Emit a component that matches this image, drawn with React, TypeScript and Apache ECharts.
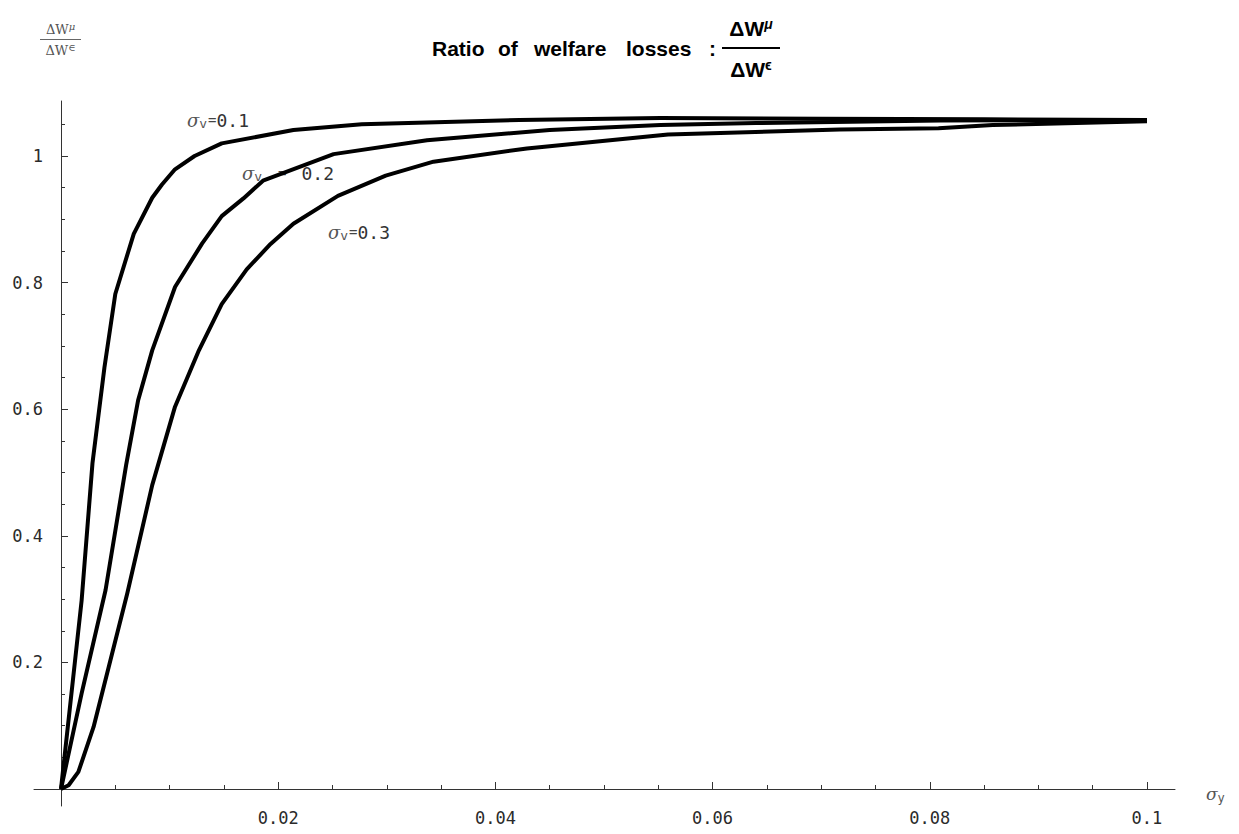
import React, { useEffect, useRef } from "react";
import * as echarts from "echarts";

// sigma_y values and welfare-loss ratios for each sigma_v curve
const sigmaY_v01 = [0, 0.0019, 0.0029, 0.0040, 0.0050, 0.0067, 0.0084, 0.0093, 0.0105, 0.0123, 0.0148, 0.0214, 0.0277, 0.0337, 0.0422, 0.0552, 0.0700, 0.0850, 0.1];
const ratio_v01 = [0, 0.298, 0.515, 0.666, 0.782, 0.877, 0.934, 0.955, 0.979, 1.000, 1.020, 1.041, 1.050, 1.053, 1.057, 1.060, 1.059, 1.058, 1.057];

const sigmaY_v02 = [0, 0.0019, 0.0041, 0.0060, 0.0071, 0.0084, 0.0105, 0.0130, 0.0148, 0.0168, 0.0186, 0.0251, 0.0337, 0.0450, 0.0552, 0.0640, 0.0810, 0.1];
const ratio_v02 = [0, 0.151, 0.314, 0.512, 0.614, 0.693, 0.793, 0.862, 0.905, 0.933, 0.961, 1.003, 1.025, 1.041, 1.049, 1.052, 1.056, 1.057];

const sigmaY_v03 = [0, 0.0007, 0.0016, 0.0030, 0.0044, 0.0061, 0.0084, 0.0105, 0.0127, 0.0148, 0.0171, 0.0193, 0.0214, 0.0255, 0.0299, 0.0343, 0.0429, 0.0559, 0.0717, 0.0808, 0.0858, 0.0935, 0.1];
const ratio_v03 = [0, 0.006, 0.027, 0.098, 0.193, 0.309, 0.480, 0.604, 0.693, 0.766, 0.821, 0.861, 0.893, 0.937, 0.969, 0.991, 1.012, 1.034, 1.042, 1.044, 1.049, 1.052, 1.055];

const curveLabels = ["0.1", "0.2", "0.3"];

const xMajorTicks = [0.02, 0.04, 0.06, 0.08, 0.1];
const xMinorTicks = [0.005, 0.01, 0.015, 0.025, 0.03, 0.035, 0.045, 0.05, 0.055, 0.065, 0.07, 0.075, 0.085, 0.09, 0.095];
const yMajorTicks = [0.2, 0.4, 0.6, 0.8, 1];
const yMinorTicks = [0.05, 0.1, 0.15, 0.25, 0.3, 0.35, 0.45, 0.5, 0.55, 0.65, 0.7, 0.75, 0.85, 0.9, 0.95, 1.05];

// axis lines extend a little past the origin on both axes
const X_LINE_MIN = -0.00249;
const Y_LINE_MIN = -0.0269;
const X_MAX = 0.10258;
const Y_MAX = 1.0869;

const MONO = "'DejaVu Sans Mono', monospace";
const SANS = "'Liberation Sans', Arial, sans-serif";
const SERIF = "'DejaVu Serif', 'Liberation Serif', serif";
const AXIS = "#333";

function pairs(xs: number[], ys: number[]) {
  return xs.map((x, i) => [x, ys[i]]);
}

function sigmaLabel(x: number, y: number, value: string, eqPad: number) {
  return {
    type: "text",
    x,
    y,
    silent: true,
    style: {
      text: `{s|σ}{sub|v}{e|=}{n|${value}}`,
      verticalAlign: "middle",
      align: "left",
      rich: {
        s: { fontFamily: SERIF, fontStyle: "italic", fontSize: 18, fill: "#555", lineHeight: 22 },
        sub: { fontFamily: MONO, fontSize: 13, fill: "#555", lineHeight: 22, padding: [7, 1, 0, 0] },
        e: { fontFamily: MONO, fontSize: 14, fill: "#444", lineHeight: 22, padding: [0, eqPad, 0, eqPad] },
        n: { fontFamily: MONO, fontSize: 18, fill: "#333", lineHeight: 22 },
      },
    },
  };
}

export default function App() {
  const ref = useRef<HTMLDivElement>(null);

  useEffect(() => {
    if (!ref.current) return;
    const chart = echarts.init(ref.current, undefined, { renderer: "svg" });
    const lineGrid = { left: 34, top: 101, width: 1141, height: 705, containLabel: false, outerBoundsMode: "none" };
    const plotGrid = { left: 61, top: 101, width: 1114, height: 688, containLabel: false, outerBoundsMode: "none" };

    const series = [
      pairs(sigmaY_v01, ratio_v01),
      pairs(sigmaY_v02, ratio_v02),
      pairs(sigmaY_v03, ratio_v03),
    ].map((data, i) => ({
      name: "σv=" + curveLabels[i],
      type: "line",
      xAxisIndex: 1,
      yAxisIndex: 1,
      data,
      symbol: "none",
      silent: true,
      clip: false,
      lineStyle: { color: "#000", width: 4, join: "round" },
    }));

    const titleFont = `bold 21px ${SANS}`;
    const noAxisParts = { axisLine: { show: false }, axisTick: { show: false }, axisLabel: { show: false }, splitLine: { show: false } };

    const option: any = {
      animation: false,
      backgroundColor: "#fff",
      grid: [lineGrid, { ...plotGrid }, { ...plotGrid }],
      xAxis: [
        {
          type: "value",
          gridIndex: 0,
          min: X_LINE_MIN,
          max: X_MAX,
          ...noAxisParts,
          axisLine: { show: true, onZero: true, lineStyle: { color: AXIS, width: 1 } },
        },
        {
          type: "value",
          gridIndex: 1,
          min: 0,
          max: X_MAX,
          ...noAxisParts,
          axisTick: { show: true, inside: true, length: 7, customValues: xMajorTicks, lineStyle: { color: AXIS } },
          axisLabel: {
            show: true,
            customValues: xMajorTicks,
            margin: 20,
            fontFamily: MONO,
            fontSize: 17,
            color: "#2a2a2a",
            formatter: (v: number) => String(v),
          },
        },
        {
          type: "value",
          gridIndex: 2,
          min: 0,
          max: X_MAX,
          ...noAxisParts,
          axisTick: { show: true, inside: true, length: 4, customValues: xMinorTicks, lineStyle: { color: AXIS } },
        },
      ],
      yAxis: [
        {
          type: "value",
          gridIndex: 0,
          min: Y_LINE_MIN,
          max: Y_MAX,
          ...noAxisParts,
          axisLine: { show: true, onZero: true, lineStyle: { color: AXIS, width: 1 } },
        },
        {
          type: "value",
          gridIndex: 1,
          min: 0,
          max: Y_MAX,
          ...noAxisParts,
          axisTick: { show: true, inside: true, length: 7, customValues: yMajorTicks, lineStyle: { color: AXIS } },
          axisLabel: {
            show: true,
            customValues: yMajorTicks,
            margin: 18,
            fontFamily: MONO,
            fontSize: 17,
            color: "#2a2a2a",
            formatter: (v: number) => String(v),
          },
        },
        {
          type: "value",
          gridIndex: 2,
          min: 0,
          max: Y_MAX,
          ...noAxisParts,
          axisTick: { show: true, inside: true, length: 4, customValues: yMinorTicks, lineStyle: { color: AXIS } },
        },
      ],
      series,
      graphic: [
        sigmaLabel(187, 120, curveLabels[0], 0),
        sigmaLabel(242, 173, curveLabels[1], 15),
        sigmaLabel(328, 232, curveLabels[2], 0),
        // x axis name
        {
          type: "text",
          x: 1206,
          y: 794,
          silent: true,
          style: {
            text: "{s|σ}{sub|y}",
            verticalAlign: "middle",
            rich: {
              s: { fontFamily: SERIF, fontStyle: "italic", fontSize: 17, fill: "#555", lineHeight: 22 },
              sub: { fontFamily: MONO, fontSize: 12, fill: "#555", lineHeight: 22, padding: [7, 0, 0, 0] },
            },
          },
        },
        // y axis name (small fraction)
        {
          type: "text",
          x: 60.5,
          y: 29,
          silent: true,
          style: {
            text: "{a|ΔW}{b|μ}",
            align: "center",
            verticalAlign: "middle",
            rich: {
              a: { fontFamily: SERIF, fontSize: 13, fill: "#555", lineHeight: 16 },
              b: { fontFamily: SERIF, fontStyle: "italic", fontSize: 10, fill: "#555", lineHeight: 16, padding: [0, 0, 5, 0] },
            },
          },
        },
        {
          type: "line",
          silent: true,
          shape: { x1: 40, y1: 39.5, x2: 81, y2: 39.5 },
          style: { stroke: "#666", lineWidth: 1 },
        },
        {
          type: "text",
          x: 60.5,
          y: 50,
          silent: true,
          style: {
            text: "{a|ΔW}{b|∈}",
            align: "center",
            verticalAlign: "middle",
            rich: {
              a: { fontFamily: SERIF, fontSize: 13, fill: "#555", lineHeight: 16 },
              b: { fontFamily: SERIF, fontSize: 10, fill: "#555", lineHeight: 16, padding: [0, 0, 5, 0] },
            },
          },
        },
        // title
        { type: "text", x: 432, y: 48, silent: true, style: { text: "Ratio", font: titleFont, fill: "#000", verticalAlign: "middle" } },
        { type: "text", x: 498, y: 48, silent: true, style: { text: "of", font: titleFont, fill: "#000", verticalAlign: "middle" } },
        { type: "text", x: 534, y: 48, silent: true, style: { text: "welfare", font: titleFont, fill: "#000", verticalAlign: "middle" } },
        { type: "text", x: 626, y: 48, silent: true, style: { text: "losses", font: titleFont, fill: "#000", verticalAlign: "middle" } },
        { type: "text", x: 709, y: 48, silent: true, style: { text: ":", font: titleFont, fill: "#000", verticalAlign: "middle" } },
        {
          type: "text",
          x: 751,
          y: 28,
          silent: true,
          style: {
            text: "{a|ΔW}{b|μ}",
            align: "center",
            verticalAlign: "middle",
            rich: {
              a: { fontFamily: SANS, fontWeight: "bold", fontSize: 21, fill: "#000", lineHeight: 24 },
              b: { fontFamily: SANS, fontWeight: "bold", fontStyle: "italic", fontSize: 14, fill: "#000", lineHeight: 24, padding: [0, 0, 9, 0] },
            },
          },
        },
        {
          type: "rect",
          silent: true,
          shape: { x: 722, y: 47, width: 58, height: 2 },
          style: { fill: "#000" },
        },
        {
          type: "text",
          x: 751,
          y: 69,
          silent: true,
          style: {
            text: "{a|ΔW}{b|ϵ}",
            align: "center",
            verticalAlign: "middle",
            rich: {
              a: { fontFamily: SANS, fontWeight: "bold", fontSize: 21, fill: "#000", lineHeight: 24 },
              b: { fontFamily: SANS, fontWeight: "bold", fontSize: 14, fill: "#000", lineHeight: 24, padding: [0, 0, 9, 0] },
            },
          },
        },
      ],
    };

    chart.setOption(option);
    return () => {
      chart.dispose();
    };
  }, []);

  return (
    <div
      ref={ref}
      style={{ position: "absolute", left: 0, top: 0, width: 1239, height: 834, background: "#fff" }}
    />
  );
}
